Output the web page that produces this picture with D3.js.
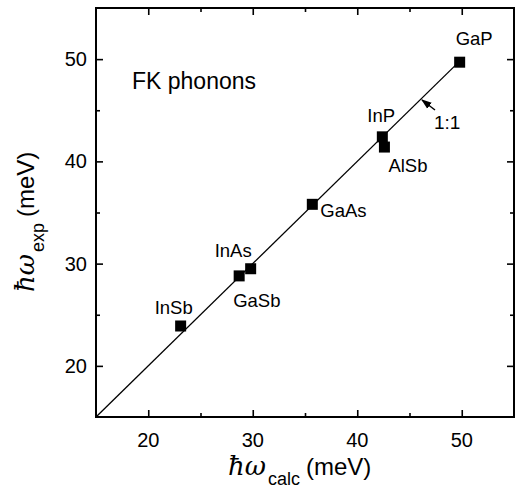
<!DOCTYPE html>
<html>
<head>
<meta charset="utf-8">
<script src="https://cdn.jsdelivr.net/npm/d3@7"></script>
<style>
  body { margin: 0; background: #fff; }
  svg { display: block; }
  text { font-family: "Liberation Sans", Arial, sans-serif; fill: #000; }
  .sym { font-family: "DejaVu Serif", "Liberation Serif", serif; font-style: italic; }
</style>
</head>
<body>
<div id="chart"></div>
<script>
// FK phonon energies, calc vs exp (meV)
var materials = ['GaP', 'InP', 'AlSb', 'GaAs', 'InAs', 'GaSb', 'InSb'];
var calcVals = [49.8, 42.4, 42.6, 35.7, 29.8, 28.7, 23.1];
var expVals  = [49.7, 42.4, 41.4, 35.8, 29.5, 28.8, 23.9];
var tickVals = [20, 30, 40, 50];
var minorVals = [25, 35, 45];
var lineEnds = [15, 50];

// label placement relative to the marker, px
var labelOff = {
  GaP: [-4, -17], InP: [-15, -15], AlSb: [4, 25], GaAs: [8, 13],
  InAs: [-36, -12], GaSb: [-6, 31], InSb: [-26, -12]
};

var W = 516, H = 493;
var m = {left: 96, right: 2, top: 8, bottom: 76};

var svg = d3.select('#chart').append('svg')
    .attr('width', W)
    .attr('height', H);

var x = d3.scaleLinear().domain([15, 55]).range([m.left, W - m.right]);
var y = d3.scaleLinear().domain([15, 55]).range([H - m.bottom, m.top]);

var g = svg.append('g');

// ticks on all four sides, pointing inward
function axisSet(axisFn, scale, vals, len, tr) {
  g.append('g')
    .attr('transform', tr)
    .call(axisFn(scale).tickValues(vals).tickSize(len).tickFormat(''))
    .call(function(s){ s.select('.domain').remove(); s.selectAll('line').attr('stroke-width', 1.6); });
}
var bottomT = 'translate(0,' + y(15) + ')', topT = 'translate(0,' + y(55) + ')';
var leftT = 'translate(' + x(15) + ',0)', rightT = 'translate(' + x(55) + ',0)';
axisSet(d3.axisTop, x, tickVals, 7, bottomT);
axisSet(d3.axisTop, x, minorVals, 4, bottomT);
axisSet(d3.axisBottom, x, tickVals, 7, topT);
axisSet(d3.axisBottom, x, minorVals, 4, topT);
axisSet(d3.axisRight, y, tickVals, 7, leftT);
axisSet(d3.axisRight, y, minorVals, 4, leftT);
axisSet(d3.axisLeft, y, tickVals, 7, rightT);
axisSet(d3.axisLeft, y, minorVals, 4, rightT);

// tick labels
g.selectAll('.xl').data(tickVals).enter().append('text')
  .attr('x', function(d){ return x(d); })
  .attr('y', y(15) + 30)
  .attr('text-anchor', 'middle')
  .attr('font-size', 20)
  .text(function(d){ return d; });
g.selectAll('.yl').data(tickVals).enter().append('text')
  .attr('x', x(15) - 9)
  .attr('y', function(d){ return y(d) + 7; })
  .attr('text-anchor', 'end')
  .attr('font-size', 20)
  .text(function(d){ return d; });

// frame
g.append('rect')
  .attr('x', x(15)).attr('y', y(55))
  .attr('width', x(55) - x(15)).attr('height', y(15) - y(55))
  .attr('fill', 'none').attr('stroke', '#000').attr('stroke-width', 2);

// 1:1 line
g.append('line')
  .attr('x1', x(lineEnds[0])).attr('y1', y(lineEnds[0]))
  .attr('x2', x(lineEnds[1])).attr('y2', y(lineEnds[1]))
  .attr('stroke', '#000').attr('stroke-width', 1.3);

// markers
var pts = materials.map(function(d, i){ return {name: d, cx: calcVals[i], ey: expVals[i]}; });
var sz = 11;
g.selectAll('.pt').data(pts).enter().append('rect')
  .attr('x', function(d){ return x(d.cx) - sz / 2; })
  .attr('y', function(d){ return y(d.ey) - sz / 2; })
  .attr('width', sz).attr('height', sz)
  .attr('fill', '#000');

g.selectAll('.lab').data(pts).enter().append('text')
  .attr('x', function(d){ return x(d.cx) + labelOff[d.name][0]; })
  .attr('y', function(d){ return y(d.ey) + labelOff[d.name][1]; })
  .attr('font-size', 18.5)
  .text(function(d){ return d.name; });

// title in plot
g.append('text').attr('x', 132).attr('y', 89).attr('font-size', 23).text('FK phonons');

// 1:1 annotation with arrow
svg.append('defs').append('marker')
  .attr('id', 'ah').attr('viewBox', '0 0 10 10').attr('refX', 9).attr('refY', 5)
  .attr('markerWidth', 7).attr('markerHeight', 7).attr('orient', 'auto')
  .append('path').attr('d', 'M0,1.5L10,5L0,8.5Z').attr('fill', '#000');
var tip = 46.1;
g.append('line')
  .attr('x1', x(tip) + 14).attr('y1', y(tip) + 11)
  .attr('x2', x(tip) + 1).attr('y2', y(tip) + 1)
  .attr('stroke', '#000').attr('stroke-width', 1.5)
  .attr('marker-end', 'url(#ah)');
g.append('text').attr('x', x(tip) + 13).attr('y', y(tip) + 30)
  .attr('font-size', 19).text('1:1');

// axis titles
var xt = svg.append('text').attr('x', 228).attr('y', 475).attr('font-size', 24);
xt.append('tspan').attr('class', 'sym').attr('font-size', 26).text('ħω');
xt.append('tspan').attr('dy', 10).attr('dx', 2).attr('font-size', 18).text('calc');
xt.append('tspan').attr('dy', -10).attr('dx', 6).text('(meV)');

var yt = svg.append('text')
  .attr('transform', 'translate(34,292) rotate(-90)')
  .attr('font-size', 24);
yt.append('tspan').attr('class', 'sym').attr('font-size', 26).text('ħω');
yt.append('tspan').attr('dy', 10).attr('dx', 2).attr('font-size', 18).text('exp');
yt.append('tspan').attr('dy', -10).attr('dx', 6).text('(meV)');
</script>
</body>
</html>
